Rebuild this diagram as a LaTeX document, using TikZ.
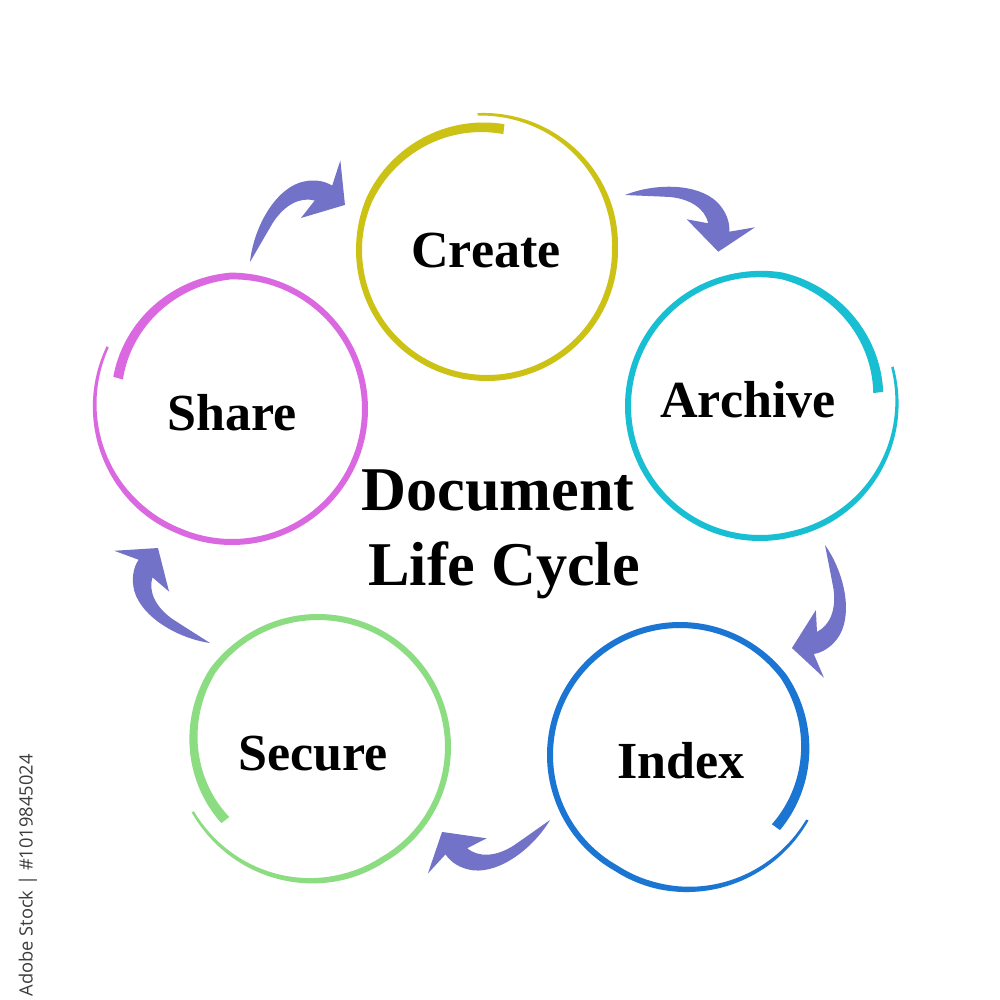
\documentclass[tikz,border=0pt]{standalone}
\usepackage{fontspec}
\setmainfont{Liberation Serif}
\newfontfamily\wmfont{Open Sans}
\definecolor{arrowblue}{RGB}{114,114,200}
\definecolor{createcol}{RGB}{204,194,22}
\definecolor{archivecol}{RGB}{24,190,210}
\definecolor{indexcol}{RGB}{26,118,210}
\definecolor{securecol}{RGB}{140,220,130}
\definecolor{sharecol}{RGB}{218,105,225}
\definecolor{wmgrey}{RGB}{60,60,60}
\tikzset{
  lbl/.style={font=\bfseries\fontsize{14.8}{17}\selectfont, anchor=base, inner sep=0pt},
  ttl/.style={font=\bfseries\fontsize{17.7}{21}\selectfont, anchor=base, inner sep=0pt},
  arrowfill/.style={fill=arrowblue},
}
% brush ring: cx, cy, R0, start angle, span (signed), outward start offset, inward end offset, colour
\newcommand{\brushring}[8]{%
  \fill[#8] plot[domain=0:1,samples=181,variable=\pp]
    ({#1+(ringr(\pp,#3,#6,#7)+0.5*ringw(\pp))*cos(#4+(#5)*\pp)},
     {#2-(ringr(\pp,#3,#6,#7)+0.5*ringw(\pp))*sin(#4+(#5)*\pp)})
  -- plot[domain=0:1,samples=181,variable=\pp]
    ({#1+(ringr(1-\pp,#3,#6,#7)-0.5*ringw(1-\pp))*cos(#4+(#5)*(1-\pp))},
     {#2-(ringr(1-\pp,#3,#6,#7)-0.5*ringw(1-\pp))*sin(#4+(#5)*(1-\pp))})
  -- cycle;}
% curved arrow: tail coordinate, rotation, scale
\newcommand{\cyclearrow}[3]{%
  \fill[arrowfill, shift={(#1)}, rotate=#2, scale=#3]
    (0,0) .. controls (30,-12) and (72,-12) .. (92,7)
    .. controls (101,16) and (105,27) .. (104.3,36.7)
    -- (130,32.3) -- (93.3,56.7) -- (61.7,24.3) -- (83.3,28.3)
    .. controls (80,14) and (66,4) .. (45,2)
    .. controls (25,1) and (10,0.5) .. (0,0) -- cycle;}
\begin{document}
\begin{tikzpicture}[x=0.01cm, y=-0.01cm,
  declare function={
    ringw(\varu)=2.5+3.5*min(1,\varu/0.2)+4*max(0,(\varu-0.75)/0.25);
    ringr(\varu,\varr,\varo,\vare)=\varr+\varo*max(0,1-\varu/0.25)-\vare*max(0,(\varu-0.8)/0.2);
  }]
\fill[white] (0,0) rectangle (1000,1000);
\useasboundingbox (0,0) rectangle (1000,1000);

% rings
\brushring{487}{250}{128}{94}{-372}{8}{6}{createcol}
\brushring{760}{406}{132}{16.5}{-370}{6}{13}{archivecol}
\brushring{680}{755}{130}{-27}{-370}{13}{10}{indexcol}
\brushring{318}{747}{130}{207.3}{371}{11}{12}{securecol}
\brushring{232}{409}{133}{153.4}{371.5}{6}{15}{sharecol}

% labels
\node[lbl] (create)  at (486,267) {Create};
\node[lbl] (archive) at (748,417) {Archive};
\node[lbl] (index)   at (681,778) {Index};
\node[lbl] (secure)  at (313,770) {Secure};
\node[lbl] (share)   at (232,430) {Share};
\node[ttl] (title1)  at (498,510) {Document};
\node[ttl] (title2)  at (504,585) {Life Cycle};

% arrows
\coordinate (a1) at (250,262);
\coordinate (a2) at (625,195);
\coordinate (a3) at (825,545);
\coordinate (a4) at (550,820);
\coordinate (a5) at (210,643);
\cyclearrow{a1}{62.3}{1.015}
\cyclearrow{a2}{0}{1}
\cyclearrow{a3}{-76.5}{0.991}
\cyclearrow{a4}{-142.4}{0.995}
\cyclearrow{a5}{150.0}{0.992}

% side text
\node[rotate=90, anchor=west, inner sep=0pt, text=wmgrey,
      font=\wmfont\fontsize{5.2}{7}\selectfont] (wm) at (28,997) {Adobe Stock | \#1019845024};
\end{tikzpicture}
\end{document}
